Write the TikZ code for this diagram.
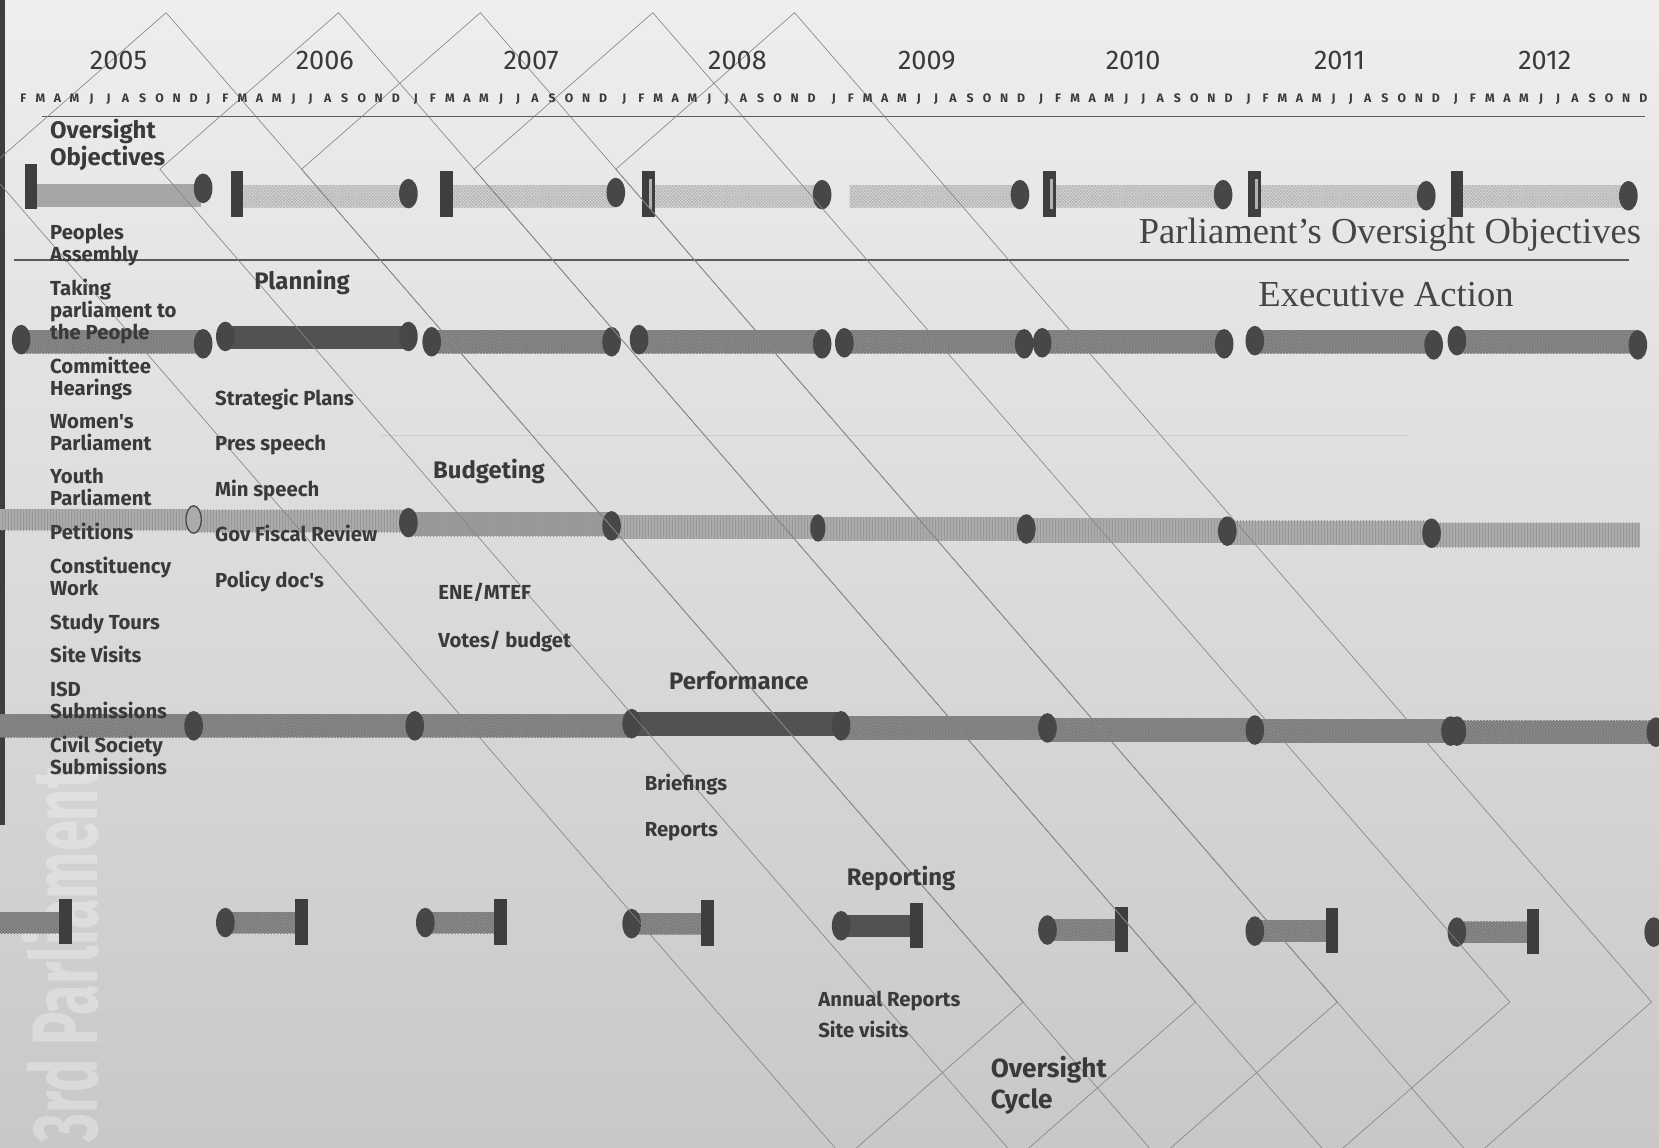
\documentclass[tikz,border=0pt]{standalone}
\usepackage{fontspec}
\setmainfont{Fira Sans}
\newfontfamily\serifface{Liberation Serif}
\usetikzlibrary{patterns}

% fine textures for the timeline bars
\pgfdeclarepatternformonly{finecross}{\pgfqpoint{-0.2pt}{-0.2pt}}{\pgfqpoint{1.7pt}{1.7pt}}{\pgfqpoint{1.5pt}{1.5pt}}{%
  \pgfsetlinewidth{0.25pt}%
  \pgfpathmoveto{\pgfqpoint{0pt}{0pt}}\pgfpathlineto{\pgfqpoint{1.5pt}{1.5pt}}%
  \pgfpathmoveto{\pgfqpoint{0pt}{1.5pt}}\pgfpathlineto{\pgfqpoint{1.5pt}{0pt}}%
  \pgfusepath{stroke}}
\pgfdeclarepatternformonly{finevert}{\pgfqpoint{0pt}{0pt}}{\pgfqpoint{1.6pt}{1pt}}{\pgfqpoint{1.6pt}{1pt}}{%
  \pgfpathrectangle{\pgfqpoint{0pt}{0pt}}{\pgfqpoint{0.5pt}{1pt}}\pgfusepath{fill}}

\definecolor{bgtop}{HTML}{EEEEEE}
\definecolor{bgmid}{HTML}{E1E1E1}
\definecolor{bgbot}{HTML}{C8C8C8}
\definecolor{ink}{HTML}{3A3A3A}
\definecolor{serifink}{HTML}{454545}
\definecolor{knobc}{HTML}{474747}
\definecolor{postc}{HTML}{3E3E3E}
\definecolor{litec}{HTML}{D8D8D8}
\definecolor{litepat}{HTML}{B2B2B2}
\definecolor{solidc}{HTML}{A6A6A6}
\definecolor{midc}{HTML}{8E8E8E}
\definecolor{midpat}{HTML}{787878}
\definecolor{darkc}{HTML}{525252}
\definecolor{budc}{HTML}{ABABAB}
\definecolor{budpat}{HTML}{969696}
\definecolor{budmidc}{HTML}{9A9A9A}
\definecolor{diagc}{HTML}{858585}
\definecolor{rulec}{HTML}{5A5A5A}

\newcommand\tlknob[2]{\fill[knobst] (#1,#2) ellipse [x radius=4.4pt, y radius=7pt];}
\newcommand\tlpost[3]{\fill[postst] (#1-6,#2) rectangle (#1+6,#3);}

\begin{document}
\begin{tikzpicture}[x=0.5pt,y=-0.5pt,
  knobst/.style={fill=knobc},
  postst/.style={fill=postc},
  solidbar/.style={fill=solidc},
  litebar/.style={fill=litec, postaction={pattern=finecross, pattern color=litepat}},
  midbar/.style={fill=midc, postaction={pattern=finecross, pattern color=midpat}},
  darkbar/.style={fill=darkc},
  budbar/.style={fill=budc, postaction={pattern=finevert, pattern color=budpat}},
  budmid/.style={fill=budmidc, postaction={pattern=finevert, pattern color=budpat}},
  cycleline/.style={draw=diagc, line width=0.3pt},
  lbl/.style={anchor=base west, inner sep=0pt, text=ink, font=\bfseries\fontsize{9.6}{10}\selectfont},
  head/.style={anchor=base west, inner sep=0pt, text=ink, font=\bfseries\fontsize{11.3}{12}\selectfont},
  yearlbl/.style={anchor=base, inner sep=0pt, text=ink, font=\fontsize{12.8}{13}\selectfont},
  monthlbl/.style={anchor=base, inner sep=0pt, text=ink, font=\bfseries\fontsize{5.8}{6}\selectfont},
  seriflbl/.style={anchor=base west, inner sep=0pt, text=serifink, font=\serifface\fontsize{17.3}{18}\selectfont}]

\useasboundingbox (0,0) rectangle (1568,1085);
\begin{scope}
\clip (0,0) rectangle (1568,1085);
% paper
\shade[top color=bgtop, middle color=bgmid, bottom color=bgbot] (0,0) rectangle (1568,1085);
% faint watermark running up the lower left edge
\node[rotate=90, anchor=base west, inner sep=0pt, text=white, opacity=0.3,
      font=\bfseries\fontsize{44}{44}\selectfont] (watermark) at (92,1080)
      {\scalebox{0.6}[1]{3rd Parliament}};
% left edge strip
\fill[postc] (0,0) rectangle (5,780);

% rules
\draw[rulec, line width=0.7pt] (40,110) -- (1555,110);
\draw[rulec, line width=1.1pt] (13,246) -- (1540,246);
\draw[gray!40, line width=0.4pt] (360,412) -- (1330,412);

% ---- row 1: oversight objectives
\fill[postst] (23.5,155) rectangle (34.5,198);
\fill[solidbar] (35,174) rectangle (190,196);
\tlknob{192}{178}
\foreach \a/\b/\e/\ye in {230/385/386/183, 428/580/582/182, 618/775/777/184,
    803/962/964/184, 996/1155/1156/184, 1190/1346/1348/185, 1382/1537/1539/185}{
  \fill[litebar] (\a,175) rectangle (\b,196);
  \tlknob{\e}{\ye}
}
\foreach \m in {224,422,613,992,1186,1377}{\tlpost{\m}{162}{205}}
\foreach \m in {613,992,1186}{\fill[litepat] (\m,169) rectangle (\m+3,198);}

% ---- row 2: executive action
\foreach \a/\b/\ya/\yb in {20/192/321/325, 408/578/323/323, 604/777/321/325,
    798/968/324/325, 985/1157/324/325, 1186/1355/322/326, 1377/1548/322/326}{
  \fill[midbar] (\a,312) rectangle (\b,334);
  \tlknob{\a}{\ya}
  \tlknob{\b}{\yb}
}
\fill[darkbar] (213,308) rectangle (386,330);
\tlknob{213}{318}
\tlknob{386}{318}

% ---- row 3: budgeting
\fill[budbar] (0,481) rectangle (183,501);
\fill[budbar] (183,482) rectangle (386,503);
\fill[budmid] (386,484) rectangle (578,507);
\fill[budbar] (578,487) rectangle (773,509);
\fill[budbar] (773,489) rectangle (970,511);
\fill[budbar] (970,490) rectangle (1160,513);
\fill[budbar] (1160,492) rectangle (1353,515);
\fill[budbar] (1353,494) rectangle (1550,517);
\filldraw[fill=budc, draw=knobc, line width=0.6pt] (183,491) ellipse [x radius=3.6pt, y radius=6.5pt];
\tlknob{386}{494}
\tlknob{578}{497}
\fill[knobst] (773,499) ellipse [x radius=3.6pt, y radius=6.5pt];
\tlknob{970}{500}
\tlknob{1160}{502}
\tlknob{1353}{504}

% ---- row 4: performance
\fill[midbar] (0,675) rectangle (392,697);
\fill[midbar] (392,675) rectangle (597,697);
\fill[darkbar] (597,673) rectangle (795,696);
\fill[midbar] (795,677) rectangle (990,699);
\fill[midbar] (990,679) rectangle (1186,701);
\fill[midbar] (1186,680) rectangle (1375,702);
\fill[midbar] (1375,681) rectangle (1568,703);
\foreach \e/\ye in {183/686, 392/686, 597/684, 795/686, 990/688, 1186/690,
    1371/691, 1377/691, 1565/692}{\tlknob{\e}{\ye}}

% ---- row 5: reporting
\fill[midbar] (0,862) rectangle (58,882);
\tlpost{62}{850}{892}
\foreach \e/\p/\y in {213/285/872, 402/473/872, 597/669/873, 990/1060/879,
    1186/1259/880, 1377/1449/881}{
  \fill[midbar] (\e,\y-10) rectangle (\p-4,\y+10);
  \tlpost{\p}{\y-22}{\y+21}
  \tlknob{\e}{\y}
}
\fill[darkbar] (795,865) rectangle (862,886);
\tlpost{866}{853}{896}
\tlknob{795}{875}
\tlknob{1563}{881}

% ---- oversight cycle: five tilted frames
\foreach \px in {157,320,454,617,751}{
  \draw[cycleline] (\px,12) -- ++(810,935) -- ++(-169,148) -- ++(-810,-935) -- cycle;
}
\end{scope}

% ---- calendar
\foreach \yt/\yc [count=\yi] in {2005/112, 2006/307, 2007/502, 2008/697,
    2009/876, 2010/1071, 2011/1266, 2012/1460}{
  \node[yearlbl] (year-\yi) at (\yc,66) {\yt};
}
\foreach \yx [count=\yi] in {6,197,393,590,788,984,1180,1376}{
  \foreach \m [count=\mi] in {J,F,M,A,M,J,J,A,S,O,N,D}{
    \ifnum\yi\mi=11 \else
      \node[monthlbl] (month-\yi-\mi) at ({\yx+(\mi-1)*16.1},97) {\m};
    \fi
  }
}

% ---- left column
\node[head] (oo1) at (47,131) {Oversight};
\node[head] (oo2) at (47,156) {Objectives};
\node[lbl] (pa1) at (47,226) {Peoples};
\node[lbl] (pa2) at (47,247) {Assembly};
\node[lbl] (tp1) at (47,279) {Taking};
\node[lbl] (tp2) at (47,300) {parliament to};
\node[lbl] (tp3) at (47,321) {the People};
\node[lbl] (ch1) at (47,353) {Committee};
\node[lbl] (ch2) at (47,374) {Hearings};
\node[lbl] (wp1) at (47,405) {Women\textquotesingle s};
\node[lbl] (wp2) at (47,426) {Parliament};
\node[lbl] (yp1) at (47,457) {Youth};
\node[lbl] (yp2) at (47,478) {Parliament};
\node[lbl] (pet) at (47,510) {Petitions};
\node[lbl] (cw1) at (47,542) {Constituency};
\node[lbl] (cw2) at (47,563) {Work};
\node[lbl] (stt) at (47,595) {Study Tours};
\node[lbl] (svv) at (47,626) {Site Visits};
\node[lbl] (isd1) at (47,658) {ISD};
\node[lbl] (isd2) at (47,679) {Submissions};
\node[lbl] (cs1) at (47,711) {Civil Society};
\node[lbl] (cs2) at (47,732) {Submissions};

% ---- phases
\node[head] (planning) at (240,274) {Planning};
\node[lbl] (strat) at (203,383) {Strategic Plans};
\node[lbl] (pres) at (203,426) {Pres speech};
\node[lbl] (mins) at (203,469) {Min speech};
\node[lbl] (fisc) at (203,512) {Gov Fiscal Review};
\node[lbl] (poli) at (203,555) {Policy doc\textquotesingle s};

\node[head] (budgeting) at (409,452) {Budgeting};
\node[lbl] (ene) at (414,567) {ENE/MTEF};
\node[lbl] (votes) at (414,612) {Votes/ budget};

\node[head] (performance) at (632,652) {Performance};
\node[lbl] (brief) at (609,747) {Briefings};
\node[lbl] (reps) at (609,791) {Reports};

\node[head] (reporting) at (800,837) {Reporting};
\node[lbl] (annual) at (773,951) {Annual Reports};
\node[lbl] (sitev) at (773,981) {Site visits};

\node[head, font=\bfseries\fontsize{12.4}{13}\selectfont] (cyc1) at (936,1018) {Oversight};
\node[head, font=\bfseries\fontsize{12.4}{13}\selectfont] (cyc2) at (936,1048) {Cycle};

% ---- headings on the right
\node[seriflbl] (poo) at (1076,230) {Parliament’s Oversight Objectives};
\node[seriflbl] (exa) at (1189,290) {Executive Action};
\end{tikzpicture}
\end{document}
